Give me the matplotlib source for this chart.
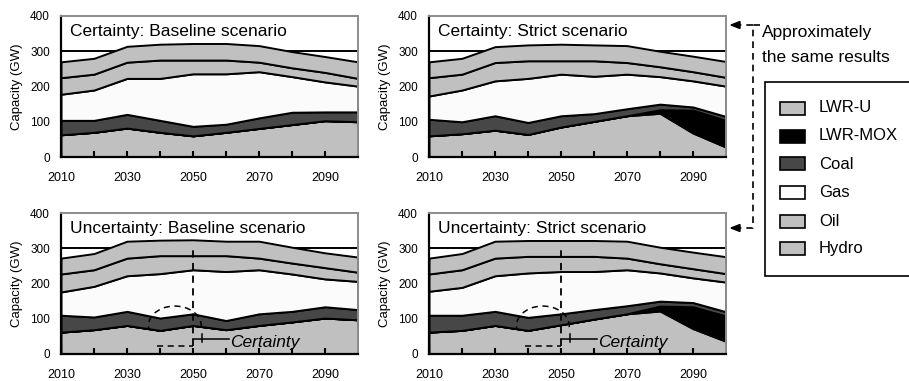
import matplotlib
matplotlib.use('Agg')
import matplotlib.pyplot as plt
from matplotlib.patches import Arc, Rectangle, Polygon
from matplotlib.lines import Line2D

plt.rcParams['font.family'] = ['Liberation Sans', 'DejaVu Sans']

# --- data (GW) -------------------------------------------------------------
years = [2010, 2020, 2030, 2040, 2050, 2060, 2070, 2080, 2090, 2100]
fuels = ['LWR-U', 'LWR-MOX', 'Coal', 'Gas', 'Oil', 'Hydro']
fuel_colors = ['#c0c0c0', '#000000', '#474747', '#fbfbfb', '#c0c0c0', '#c0c0c0']

# Certainty, baseline scenario
cb_lwr_u = [63, 70, 82, 70, 60, 70, 81, 92, 103, 100]
cb_lwr_mox = [0, 0, 0, 0, 0, 0, 0, 0, 0, 0]
cb_coal = [41, 34, 39, 34, 27, 23, 30, 35, 25, 28]
cb_gas = [74, 86, 102, 119, 149, 143, 131, 101, 85, 73]
cb_oil = [47, 45, 46, 52, 39, 39, 27, 25, 27, 22]
cb_hydro = [45, 45, 45, 45, 47, 47, 47, 46, 45, 47]

# Certainty, strict scenario
cs_lwr_u = [60, 66, 76, 64, 85, 101, 117, 124, 68, 28]
cs_lwr_mox = [0, 0, 0, 0, 0, 0, 0, 10, 65, 76]
cs_coal = [47, 34, 41, 34, 32, 22, 20, 16, 9, 11]
cs_gas = [66, 90, 99, 125, 118, 106, 98, 78, 74, 86]
cs_oil = [52, 45, 52, 50, 38, 44, 33, 28, 26, 25]
cs_hydro = [45, 45, 45, 45, 47, 45, 48, 44, 44, 45]

# Uncertainty, baseline scenario
ub_lwr_u = [62, 69, 81, 67, 81, 69, 81, 91, 102, 97]
ub_lwr_mox = [0, 0, 0, 0, 0, 0, 0, 0, 0, 0]
ub_coal = [48, 36, 40, 35, 33, 26, 33, 30, 32, 29]
ub_gas = [66, 87, 101, 126, 125, 139, 125, 106, 79, 80]
ub_oil = [51, 47, 50, 51, 40, 45, 33, 31, 32, 26]
ub_hydro = [45, 46, 48, 44, 45, 41, 48, 45, 42, 43]

# Uncertainty, strict scenario
us_lwr_u = [62, 67, 81, 67, 83, 99, 114, 122, 72, 36]
us_lwr_mox = [0, 0, 0, 0, 0, 0, 0, 14, 62, 72]
us_coal = [48, 43, 40, 37, 31, 27, 23, 14, 12, 12]
us_gas = [68, 79, 101, 126, 120, 108, 102, 80, 70, 84]
us_oil = [49, 50, 50, 47, 43, 43, 33, 26, 26, 24]
us_hydro = [45, 46, 48, 45, 45, 45, 48, 47, 47, 48]

year_ticks = [2010, 2030, 2050, 2070, 2090]
cap_ticks = [0, 100, 200, 300, 400]

W, H = 909, 381


def fx(px):
    return px / W


def fy(py):
    return 1 - py / H


fig = plt.figure(figsize=(W / 100, H / 100), dpi=100)

panels = [
    ('Certainty: Baseline scenario', 61, 157,
     [cb_lwr_u, cb_lwr_mox, cb_coal, cb_gas, cb_oil, cb_hydro], False),
    ('Certainty: Strict scenario', 429, 157,
     [cs_lwr_u, cs_lwr_mox, cs_coal, cs_gas, cs_oil, cs_hydro], False),
    ('Uncertainty: Baseline scenario', 61, 354,
     [ub_lwr_u, ub_lwr_mox, ub_coal, ub_gas, ub_oil, ub_hydro], True),
    ('Uncertainty: Strict scenario', 429, 354,
     [us_lwr_u, us_lwr_mox, us_coal, us_gas, us_oil, us_hydro], True),
]

for title, left, bottom, layers, mark_2050 in panels:
    ax = fig.add_axes([fx(left), fy(bottom), 297 / W, 141 / H])
    for y in cap_ticks[1:-1]:
        ax.axhline(y, color='black', lw=1.4, zorder=0.5)
    ax.stackplot(years, *layers, colors=fuel_colors,
                 edgecolor='black', linewidth=1.4, zorder=1)
    ax.set_xlim(2010, 2100)
    ax.set_ylim(0, 400)
    ax.set_xticks(year_ticks)
    ax.set_xticks(range(2020, 2100, 10), minor=True)
    ax.set_yticks(cap_ticks)
    ax.tick_params(axis='x', which='both', direction='in', length=4,
                   width=1.5, pad=11, labelsize=9)
    ax.tick_params(axis='y', length=0, pad=8, labelsize=8.5)
    ax.set_ylabel('Capacity (GW)', fontsize=9.5, labelpad=5)
    for s in ('left', 'bottom'):
        ax.spines[s].set_color('black')
        ax.spines[s].set_linewidth(1.6)
    for s in ('top', 'right'):
        ax.spines[s].set_color('#8c8c8c')
        ax.spines[s].set_linewidth(1.4)
    ax.text(0.03, 0.858, title, transform=ax.transAxes, fontsize=12.5,
            va='baseline', ha='left')

    if mark_2050:
        # dashed marker of the 2050 decision point
        ax.plot([2050, 2050], [22, 295], color='black', lw=1.3,
                dashes=(4, 3), zorder=3)
        ax.add_patch(Arc((2044.5, 80), 16, 112, theta1=-25, theta2=235,
                         color='black', lw=1.1, ls=(0, (4, 3)), zorder=3))
        ax.plot([2039, 2050], [22, 22], color='black', lw=1.1,
                dashes=(4, 3), zorder=3)
        ax.plot([2050, 2061], [42, 42], color='black', lw=1.1, zorder=3)
        ax.plot([2052.6, 2052.6], [33, 58], color='black', lw=1.1, zorder=3)
        ax.text(2061.3, 33, 'Certainty', fontsize=12.5, style='italic',
                va='center', ha='left', zorder=3)

# legend box on the right
fig.add_artist(Rectangle((fx(765), fy(276)), fx(160), 194 / H,
                         transform=fig.transFigure, facecolor='white',
                         edgecolor='black', lw=1.2, clip_on=False))
row_y = [108, 136, 164, 193, 221, 248]
for name, color, ry in zip(fuels, fuel_colors, row_y):
    fig.add_artist(Rectangle((fx(780), fy(ry + 6.5)), 25 / W, 13 / H,
                             transform=fig.transFigure, facecolor=color,
                             edgecolor='black', lw=1.2))
    fig.text(fx(819), fy(ry), name, fontsize=12, va='center', ha='left')

# bracket linking the two certainty panels
fig.text(fx(762), fy(37), 'Approximately', fontsize=12.5, va='baseline')
fig.text(fx(762), fy(62), 'the same results', fontsize=12.5, va='baseline')
fig.add_artist(Line2D([fx(760), fx(753), fx(753), fx(739)],
                      [fy(25), fy(25), fy(228), fy(228)],
                      transform=fig.transFigure, color='black', lw=1.2,
                      dashes=(4, 3)))
fig.add_artist(Line2D([fx(753), fx(739)], [fy(25), fy(25)],
                      transform=fig.transFigure, color='black', lw=1.2,
                      dashes=(4, 3)))
for ty in (25, 228):
    fig.add_artist(Polygon([(fx(731), fy(ty)), (fx(740), fy(ty - 3.5)),
                            (fx(740), fy(ty + 3.5))], closed=True,
                           transform=fig.transFigure, facecolor='black',
                           edgecolor='black'))

fig.savefig('out.png', dpi=100)
